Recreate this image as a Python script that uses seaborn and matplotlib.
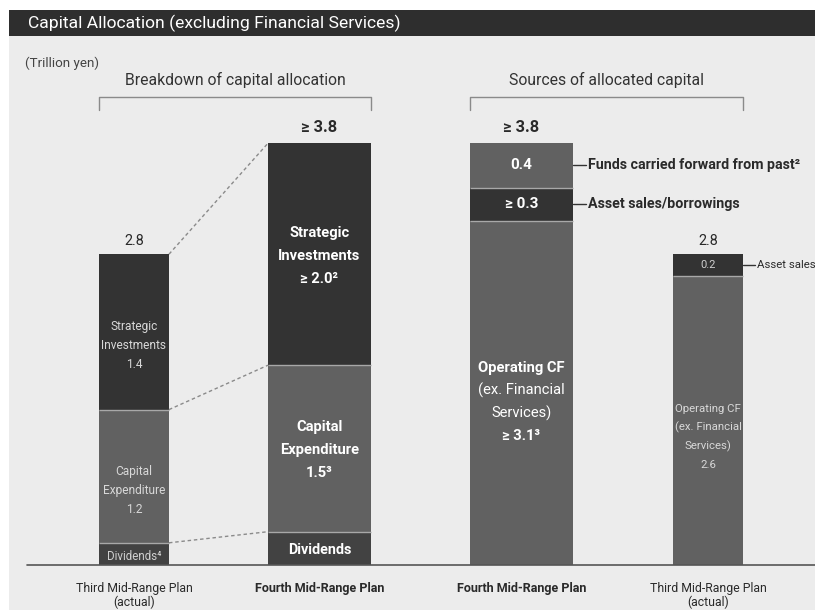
#!/usr/bin/env python3

import numpy as np
import matplotlib
matplotlib.use("Agg")
import matplotlib.pyplot as plt
from matplotlib.patches import Rectangle
import seaborn as sns

sns.set_theme(style="white")
plt.rcParams["font.family"] = ["Roboto", "DejaVu Sans"]

# values in trillion yen, each stack listed bottom -> top
THIRD_ALLOC = [0.2, 1.2, 1.4]
THIRD_ALLOC_TXT = ["Dividends⁴", "Capital\nExpenditure\n1.2", "Strategic\nInvestments\n1.4"]
FOURTH_ALLOC = [0.3, 1.5, 2.0]
FOURTH_ALLOC_TXT = ["Dividends", "Capital\nExpenditure\n1.5³", "Strategic\nInvestments\n≥ 2.0²"]
FOURTH_SRC = [3.1, 0.3, 0.4]
FOURTH_SRC_TXT = ["Operating CF\n(ex. Financial\nServices)\n≥ 3.1³", "≥ 0.3", "0.4"]
FOURTH_SRC_NOTES = ["", "Asset sales/borrowings", "Funds carried forward from past²"]
THIRD_SRC = [2.6, 0.2]
THIRD_SRC_TXT = ["Operating CF\n(ex. Financial\nServices)\n2.6", "0.2"]
THIRD_SRC_NOTES = ["", "Asset sales"]
TOTALS = ["2.8", "≥ 3.8", "≥ 3.8", "2.8"]
PLANS = ["Third Mid-Range Plan\n(actual)", "Fourth Mid-Range Plan",
         "Fourth Mid-Range Plan", "Third Mid-Range Plan\n(actual)"]
GROUPS = ["Breakdown of capital allocation", "Sources of allocated capital"]

# layout (pixels)
W, H = 815, 610
BASE = 565
PXU = 111.0
POS = [134, 319.5, 521.5, 708]
WID = [70, 103, 103, 70]

DARK, MID, DIV = "#333333", "#616161", "#424242"
SEP = "#a8a8a8"
INK = "#2a2a2a"

fig = plt.figure(figsize=(W / 100, H / 100), dpi=100)
fig.patch.set_facecolor("white")

bg = fig.add_axes([0, 0, 1, 1])
bg.set_xlim(0, W)
bg.set_ylim(H, 0)
bg.axis("off")
bg.add_patch(Rectangle((9, 36), W - 9, H - 36, color="#ececec", lw=0))
bg.add_patch(Rectangle((9, 10), W - 9, 26, color="#2e2e2e", lw=0))
bg.text(28, 23, "Capital Allocation (excluding Financial Services)",
        color="white", fontsize=12.6, va="center", ha="left")
bg.text(25, 63, "(Trillion yen)", color="#444444", fontsize=9.6, va="center")

ax = fig.add_axes([0, 0, 1, 1])
ax.patch.set_alpha(0)


def draw_stack(i, vals, colors):
    tops = np.cumsum(vals)
    # tallest first, so lower layers paint over it
    for top, c in zip(tops[::-1], colors[::-1]):
        sns.barplot(x=[POS[i]], y=[top], native_scale=True, orient="x",
                    width=WID[i], color=c, saturation=1, linewidth=0,
                    errorbar=None, ax=ax)
    for t in tops[:-1]:
        ax.hlines(t, POS[i] - WID[i] / 2, POS[i] + WID[i] / 2, color=SEP, lw=1)
    return tops


def seg_label(i, y, txt, size, color, weights, lh, shift=0):
    lines = txt.split("\n")
    n = len(lines)
    for k, (line, wt) in enumerate(zip(lines, weights)):
        off = ((n - 1) / 2 - k) * lh + shift
        ax.annotate(line, (POS[i], y), xytext=(0, off), textcoords="offset pixels",
                    ha="center", va="center", fontsize=size, color=color,
                    fontweight=wt)


stacks = [
    (THIRD_ALLOC, THIRD_ALLOC_TXT, [DIV, MID, DARK]),
    (FOURTH_ALLOC, FOURTH_ALLOC_TXT, [DIV, MID, DARK]),
    (FOURTH_SRC, FOURTH_SRC_TXT, [MID, DARK, MID]),
    (THIRD_SRC, THIRD_SRC_TXT, [MID, DARK]),
]
all_tops = []
for i, (vals, txts, cols) in enumerate(stacks):
    tops = draw_stack(i, vals, cols)
    all_tops.append(tops)
    bottoms = np.concatenate([[0], tops[:-1]])
    mids = (tops + bottoms) / 2
    for m, t in zip(mids, txts):
        n = t.count("\n") + 1
        if i == 0:
            if n == 1:
                seg_label(i, m, t, 8.3, "#d0d0d0", ["normal"], 0, -3)
            else:
                seg_label(i, m, t, 8.6, "#d8d8d8", ["normal"] * n, 19, -14)
        elif i == 1:
            if n == 1:
                seg_label(i, m, t, 10.4, "white", ["bold"], 0, -2)
            else:
                seg_label(i, m, t, 10.6, "white", ["bold"] * n, 23, -2)
        elif i == 2:
            if n == 1:
                seg_label(i, m, t, 11, "white", ["bold"], 0)
            else:
                seg_label(i, m, t, 10.6, "white",
                          ["bold", "normal", "normal", "bold"], 22.5, -9)
        else:
            if n == 1:
                seg_label(i, m, t, 8, "#d0d0d0", ["normal"], 0)
            else:
                seg_label(i, m, t, 8.2, "#d8d8d8", ["normal"] * n, 18.7, -16)

    # totals above bars
    big = WID[i] > 80
    ax.annotate(TOTALS[i], (POS[i], tops[-1]), xytext=(0, 8 if big else 6),
                textcoords="offset pixels", ha="center", va="bottom",
                fontsize=11.8 if big else 10.4, color=INK,
                fontweight="bold" if big else "normal")
    # plan names under the baseline
    ax.annotate(PLANS[i], (POS[i], 0), xytext=(0, -17), textcoords="offset pixels",
                ha="center", va="top", fontsize=9 if big else 8.8, color=INK,
                fontweight="bold" if big else "normal", linespacing=1.08)

# side notes
for i, notes, size, wt, ln in [(2, FOURTH_SRC_NOTES, 10.3, "bold", 13),
                               (3, THIRD_SRC_NOTES, 8.2, "normal", 12)]:
    tops = all_tops[i]
    bottoms = np.concatenate([[0], tops[:-1]])
    x0 = POS[i] + WID[i] / 2
    for m, note in zip((tops + bottoms) / 2, notes):
        if not note:
            continue
        ax.plot([x0, x0 + ln], [m, m], color="#333333", lw=1)
        ax.annotate(note, (x0 + ln, m), xytext=(2, 0), textcoords="offset pixels",
                    ha="left", va="center", fontsize=size, color=INK, fontweight=wt)

# dashed links between the two allocation bars
for a, b in zip(all_tops[0], all_tops[1]):
    ax.plot([POS[0] + WID[0] / 2, POS[1] - WID[1] / 2], [a, b],
            color="#8a8a8a", lw=1, ls=(0, (2.5, 2)))

ax.axhline(0, xmin=27 / W, xmax=1, color="#555555", lw=1.2)

# group brackets and headings (pixel coordinates)
for g, (l, r) in enumerate([(0, 1), (2, 3)]):
    x0 = POS[l] - WID[l] / 2
    x1 = POS[r] + WID[r] / 2
    bg.plot([x0, x0, x1, x1], [110, 97, 97, 110], color="#8a8a8a", lw=1)
    bg.text((x0 + x1) / 2, 80, GROUPS[g], ha="center", va="center",
            fontsize=11.3, color="#333333")

ax.set_xlim(0, W)
ax.set_ylim(-(H - BASE) / PXU, BASE / PXU)
ax.axis("off")

fig.savefig("out.png", dpi=100)
